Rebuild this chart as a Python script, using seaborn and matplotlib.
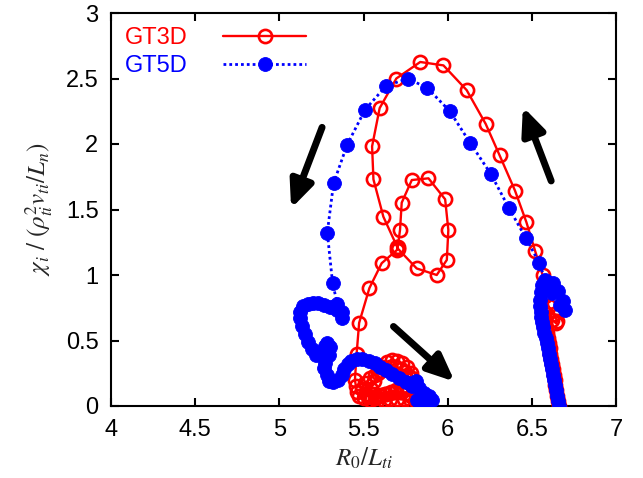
import matplotlib
matplotlib.use("Agg")
import matplotlib.pyplot as plt
import seaborn as sns
import pandas as pd
from matplotlib.ticker import FuncFormatter

# ---------------- data ----------------
series_names = ["GT3D", "GT5D"]

gt3d_x = [
    6.660, 6.655, 6.650, 6.645, 6.640, 6.635, 6.630, 6.625, 6.620, 6.615,
    6.610, 6.605, 6.600, 6.595, 6.590, 6.585, 6.580, 6.575, 6.570,
    6.590, 6.620, 6.645, 6.650, 6.630, 6.600, 6.580,
    6.564, 6.519, 6.468, 6.400, 6.308, 6.226, 6.113, 5.975, 5.837, 5.695,
    5.596, 5.551, 5.559, 5.618,
    5.700, 5.705,
    5.816, 5.935, 5.995, 6.004, 5.985, 5.886, 5.787, 5.727, 5.717,
    5.703, 5.698,
    5.608, 5.535, 5.474, 5.459, 5.449,
    5.455, 5.460, 5.475, 5.500, 5.525, 5.545, 5.565, 5.585, 5.610, 5.640,
    5.670, 5.700, 5.730, 5.760, 5.780, 5.790, 5.780, 5.755, 5.725, 5.695,
    5.665, 5.635, 5.605, 5.575, 5.545, 5.515, 5.490, 5.510, 5.540, 5.570,
    5.600, 5.630, 5.660, 5.690, 5.720, 5.745, 5.770, 5.790, 5.810, 5.825,
    5.840, 5.810, 5.780, 5.750, 5.720, 5.690, 5.660, 5.630, 5.600, 5.570,
    5.540, 5.580, 5.620, 5.660, 5.700, 5.740, 5.780, 5.820, 5.845,
]
gt3d_y = [
    0.00, 0.04, 0.08, 0.12, 0.16, 0.20, 0.24, 0.28, 0.32, 0.36,
    0.40, 0.44, 0.48, 0.52, 0.56, 0.60, 0.64, 0.68, 0.72,
    0.70, 0.66, 0.63, 0.65, 0.70, 0.76, 0.84,
    1.000, 1.186, 1.402, 1.644, 1.915, 2.153, 2.411, 2.600, 2.626, 2.500,
    2.274, 1.982, 1.730, 1.445,
    1.215, 1.200,
    1.050, 1.000, 1.115, 1.344, 1.578, 1.738, 1.725, 1.552, 1.344,
    1.210, 1.190,
    1.090, 0.900, 0.634, 0.397, 0.199,
    0.150, 0.105, 0.075, 0.060, 0.080, 0.130, 0.190, 0.250, 0.300, 0.335,
    0.350, 0.345, 0.325, 0.295, 0.255, 0.210, 0.170, 0.150, 0.140, 0.125,
    0.110, 0.095, 0.085, 0.075, 0.070, 0.090, 0.130, 0.175, 0.210, 0.240,
    0.265, 0.285, 0.300, 0.300, 0.285, 0.260, 0.220, 0.175, 0.130, 0.090,
    0.050, 0.060, 0.080, 0.100, 0.110, 0.110, 0.100, 0.090, 0.080, 0.060,
    0.045, 0.040, 0.045, 0.050, 0.055, 0.050, 0.035, 0.020, 0.010,
]

gt5d_x = [
    6.660, 6.655, 6.650, 6.645, 6.640, 6.633, 6.627, 6.620, 6.613, 6.607,
    6.600, 6.595, 6.588, 6.582, 6.575, 6.568, 6.562, 6.556, 6.552, 6.550, 6.550,
    6.553, 6.560, 6.590, 6.628, 6.655, 6.688, 6.698, 6.670, 6.620, 6.580,
    6.545, 6.466, 6.365, 6.257, 6.134, 6.011, 5.878, 5.762, 5.633, 5.510,
    5.403, 5.322, 5.285, 5.316,
    5.345, 5.370, 5.375, 5.345, 5.300, 5.264, 5.230, 5.200, 5.170, 5.143,
    5.120, 5.120, 5.135, 5.152, 5.170, 5.193, 5.220, 5.244, 5.270, 5.285,
    5.300, 5.295, 5.270, 5.265, 5.285, 5.295, 5.320, 5.346, 5.370, 5.387,
    5.410, 5.428, 5.460, 5.490, 5.530, 5.570, 5.600, 5.635, 5.670, 5.710,
    5.750, 5.790, 5.810, 5.830, 5.860, 5.890, 5.906, 5.870, 5.830, 5.816, 5.856,
]
gt5d_y = [
    0.00, 0.04, 0.08, 0.12, 0.16, 0.20, 0.24, 0.28, 0.32, 0.36,
    0.40, 0.44, 0.48, 0.52, 0.56, 0.60, 0.64, 0.68, 0.72, 0.76, 0.81,
    0.87, 0.92, 0.95, 0.936, 0.88, 0.80, 0.73, 0.77, 0.86, 0.96,
    1.090, 1.279, 1.508, 1.770, 2.008, 2.253, 2.429, 2.500, 2.442, 2.263,
    1.995, 1.699, 1.324, 0.942,
    0.775, 0.715, 0.670, 0.730, 0.755, 0.770, 0.790, 0.790, 0.780, 0.765,
    0.720, 0.672, 0.610, 0.547, 0.490, 0.436, 0.390, 0.400, 0.460, 0.480,
    0.450, 0.390, 0.330, 0.290, 0.240, 0.190, 0.180, 0.199, 0.240, 0.279,
    0.320, 0.344, 0.360, 0.360, 0.345, 0.325, 0.300, 0.275, 0.245, 0.210,
    0.180, 0.155, 0.190, 0.140, 0.100, 0.075, 0.046, 0.030, 0.040, 0.046, 0.020,
]

# direction arrows (tail x, tail y, head x, head y) in data units
arrow_tail_x = [5.254, 6.615, 5.678]
arrow_tail_y = [2.127, 1.718, 0.607]
arrow_head_x = [5.070, 6.447, 6.042]
arrow_head_y = [1.508, 2.284, 0.186]

x_ticks = [4, 4.5, 5, 5.5, 6, 6.5, 7]
y_ticks = [0, 0.5, 1, 1.5, 2, 2.5, 3]

# ---------------- styling ----------------
sns.set_theme(style="ticks")
plt.rcParams["font.family"] = ["Liberation Sans", "DejaVu Sans"]
plt.rcParams["mathtext.fontset"] = "stix"

fig = plt.figure(figsize=(6.43, 4.78), dpi=100)
ax = fig.add_axes([111 / 643, 1 - 406 / 478, (616 - 111) / 643, (406 - 13) / 478])

df3 = pd.DataFrame({"x": gt3d_x, "y": gt3d_y})
df5 = pd.DataFrame({"x": gt5d_x, "y": gt5d_y})

sns.lineplot(data=df3, x="x", y="y", ax=ax, sort=False, estimator=None,
             color="#ff0000", linewidth=1.7, linestyle="-",
             marker="o", markersize=9.5, markerfacecolor="none",
             markeredgecolor="#ff0000", markeredgewidth=1.9, zorder=3)
sns.lineplot(data=df5, x="x", y="y", ax=ax, sort=False, estimator=None,
             color="#0000ff", linewidth=2.0, linestyle=(0, (1, 1.1)),
             marker="o", markersize=10, markerfacecolor="#0000ff",
             markeredgecolor="#0000ff", markeredgewidth=0.6, zorder=4)

for tx, ty, hx, hy in zip(arrow_tail_x, arrow_tail_y, arrow_head_x, arrow_head_y):
    ax.annotate("", xy=(hx, hy), xytext=(tx, ty),
                arrowprops=dict(arrowstyle="-|>,head_length=1.6,head_width=0.7",
                                lw=5, color="black", shrinkA=0, shrinkB=0,
                                mutation_scale=10), zorder=5)

ax.set_xlim(4, 7)
ax.set_ylim(0, 3)
ax.set_xticks(x_ticks)
ax.set_yticks(y_ticks)
fmt = FuncFormatter(lambda v, p: "%g" % v)
ax.xaxis.set_major_formatter(fmt)
ax.yaxis.set_major_formatter(fmt)
ax.tick_params(direction="in", top=True, right=True, length=6, width=1.5,
               labelsize=17, pad=9, colors="black")
for s in ax.spines.values():
    s.set_visible(True)
    s.set_linewidth(1.5)
    s.set_color("black")

ax.set_xlabel(r"$R_0/L_{ti}$", fontsize=18, labelpad=4)
ax.set_ylabel(r"$\chi_i\ /\ (\rho_{ti}^2 v_{ti}/L_n)$", fontsize=18, labelpad=8)

handles = ax.lines[:2]
leg = ax.legend(handles, series_names, loc="upper left", frameon=False,
                markerfirst=False, fontsize=17, handlelength=3.5,
                handletextpad=1.5, labelspacing=0.25, borderaxespad=0.3,
                borderpad=0.3)
for t, c in zip(leg.get_texts(), ["#ff0000", "#0000ff"]):
    t.set_color(c)

fig.savefig("out.png", dpi=100)
